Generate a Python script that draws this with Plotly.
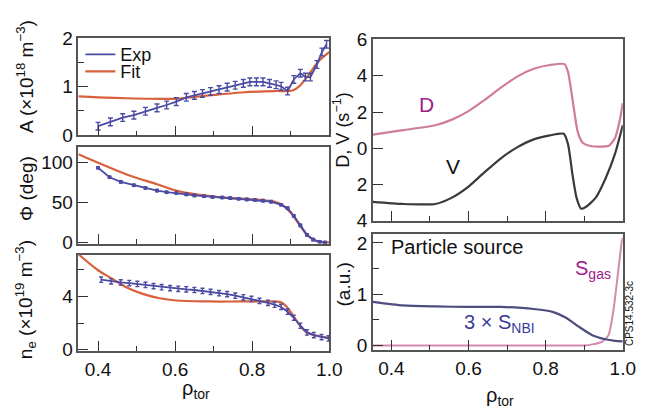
import plotly.graph_objects as go

W, H = 649, 418

# ---------------- data ----------------
# Panel A
a_exp_x = [0.400, 0.432, 0.464, 0.493, 0.523, 0.553, 0.578, 0.603, 0.629, 0.650, 0.671,
           0.692, 0.714, 0.735, 0.756, 0.777, 0.794, 0.811, 0.828, 0.845, 0.862, 0.875,
           0.892, 0.908, 0.925, 0.938, 0.951, 0.968, 0.981, 0.993]
a_exp_y = [0.18, 0.27, 0.36, 0.41, 0.49, 0.56, 0.62, 0.69, 0.78, 0.82, 0.86,
           0.90, 0.94, 0.99, 1.03, 1.07, 1.10, 1.10, 1.10, 1.07, 1.04, 1.01,
           0.91, 1.15, 1.28, 1.20, 1.20, 1.46, 1.72, 1.88]
a_exp_err = 0.08
a_fit_x = [0.349, 0.40, 0.476, 0.54, 0.603, 0.688, 0.773, 0.858, 0.895, 0.908, 0.925, 0.942, 0.960, 0.976, 1.0]
a_fit_y = [0.80, 0.78, 0.76, 0.75, 0.75, 0.82, 0.88, 0.91, 0.91, 0.93, 1.03, 1.20, 1.40, 1.56, 1.72]

# Panel Phi
phi_exp_x = [0.400, 0.430, 0.459, 0.493, 0.523, 0.553, 0.578, 0.603, 0.629, 0.650, 0.675,
             0.697, 0.722, 0.743, 0.765, 0.786, 0.807, 0.828, 0.849, 0.875, 0.892, 0.908,
             0.925, 0.942, 0.958, 0.975, 0.989]
phi_exp_y = [93.7, 81.7, 76.0, 71.8, 68.3, 65.0, 63.0, 62.0, 60.3, 59.0, 58.0,
             57.0, 56.3, 55.6, 54.8, 54.0, 53.2, 52.4, 51.2, 47.2, 43.0, 33.3,
             21.4, 9.5, 3.6, 0.8, 0.0]
phi_exp_err = 1.5
phi_fit_x = [0.349, 0.40, 0.476, 0.553, 0.603, 0.654, 0.730, 0.807, 0.857, 0.878, 0.900,
             0.925, 0.942, 0.968, 1.0]
phi_fit_y = [110.7, 100.0, 85.0, 73.0, 65.0, 60.3, 56.3, 54.0, 51.2, 47.0, 37.3,
             20.6, 9.5, 1.6, 0.0]

# Panel n_e
ne_exp_x = [0.408, 0.434, 0.459, 0.481, 0.502, 0.523, 0.544, 0.565, 0.587, 0.608, 0.629,
            0.650, 0.671, 0.692, 0.714, 0.735, 0.756, 0.777, 0.798, 0.819, 0.841, 0.858,
            0.875, 0.892, 0.908, 0.925, 0.942, 0.960, 0.980, 0.998]
ne_exp_y = [5.25, 5.13, 5.05, 5.00, 4.93, 4.86, 4.77, 4.69, 4.62, 4.57, 4.53,
            4.48, 4.41, 4.34, 4.24, 4.17, 4.05, 3.93, 3.81, 3.66, 3.52, 3.38,
            3.21, 2.85, 2.40, 1.80, 1.30, 1.10, 0.95, 0.85]
ne_exp_err = 0.2
ne_fit_x = [0.349, 0.40, 0.434, 0.476, 0.518, 0.560, 0.603, 0.688, 0.773, 0.840, 0.874,
            0.890, 0.908, 0.925, 0.942, 0.968, 1.0]
ne_fit_y = [7.16, 5.96, 5.37, 4.65, 4.17, 3.86, 3.69, 3.62, 3.62, 3.62, 3.57,
            3.21, 2.49, 1.77, 1.29, 1.05, 0.89]

# Panel D, V
dv_x = [0.352, 0.43, 0.514, 0.557, 0.60, 0.641, 0.684, 0.726, 0.769, 0.811, 0.849,
        0.858, 0.870, 0.883, 0.896, 0.913, 0.938, 0.964, 0.980, 0.993, 1.0]
d_y = [0.75, 1.00, 1.27, 1.58, 2.05, 2.65, 3.34, 3.95, 4.38, 4.59, 4.64,
       4.21, 2.65, 0.92, 0.31, 0.14, 0.09, 0.14, 0.57, 1.61, 2.48]
v_x = [0.352, 0.43, 0.514, 0.557, 0.60, 0.641, 0.684, 0.726, 0.769, 0.811, 0.847,
       0.858, 0.870, 0.880, 0.892, 0.904, 0.930, 0.955, 0.980, 1.0]
v_y = [-2.95, -3.07, -3.07, -2.72, -2.11, -1.33, -0.55, 0.05, 0.49, 0.71, 0.80,
       0.23, -1.51, -2.72, -3.33, -3.24, -2.72, -1.68, -0.29, 1.27]

# Panel particle source
snbi_x = [0.352, 0.43, 0.514, 0.60, 0.684, 0.769, 0.82, 0.853, 0.887, 0.921, 0.955, 0.98, 1.0]
snbi_y = [0.85, 0.78, 0.76, 0.75, 0.75, 0.71, 0.65, 0.54, 0.36, 0.20, 0.12, 0.09, 0.08]
sgas_x = [0.352, 0.60, 0.80, 0.90, 0.921, 0.946, 0.963, 0.976, 0.989, 0.997, 1.0]
sgas_y = [0.0, 0.0, 0.0, 0.0, 0.02, 0.07, 0.20, 0.70, 1.50, 2.00, 2.10]

x_ticks = [0.4, 0.6, 0.8, 1.0]
x_ticklabels = ["0.4", "0.6", "0.8", "1.0"]
x_minor = [0.5, 0.7, 0.9]

# ---------------- styles ----------------
FONT = "Liberation Sans, Arial, sans-serif"
EXP_C = "#4b4ba3"
FIT_C = "#d8603c"
D_C = "#d07a9c"
V_C = "#3a3a3a"
NBI_C = "#4d4d80"
GAS_C = "#d48aac"
MAG = "#a0208a"

def px_x(p):
    return p / W

def px_y(p):
    return 1 - p / H

fig = go.Figure()

# Panel A
fig.add_trace(go.Scatter(x=a_fit_x, y=a_fit_y, mode="lines", name="Fit",
                         line=dict(color=FIT_C, width=2.2, shape="spline"),
                         xaxis="x", yaxis="y", legend="legend2"))
fig.add_trace(go.Scatter(x=a_exp_x, y=a_exp_y, mode="lines", name="Exp",
                         line=dict(color=EXP_C, width=1.8),
                         error_y=dict(type="constant", value=a_exp_err, color=EXP_C, thickness=1.4, width=2.5),
                         xaxis="x", yaxis="y", legend="legend"))
# Panel Phi
fig.add_trace(go.Scatter(x=phi_fit_x, y=phi_fit_y, mode="lines", showlegend=False,
                         line=dict(color=FIT_C, width=2.2, shape="spline"),
                         xaxis="x2", yaxis="y2"))
fig.add_trace(go.Scatter(x=phi_exp_x, y=phi_exp_y, mode="lines+markers", showlegend=False,
                         line=dict(color=EXP_C, width=1.8),
                         marker=dict(size=4, color=EXP_C),
                         error_y=dict(type="constant", value=phi_exp_err, color=EXP_C, thickness=1.2, width=2),
                         xaxis="x2", yaxis="y2"))
# Panel n_e
fig.add_trace(go.Scatter(x=ne_fit_x, y=ne_fit_y, mode="lines", showlegend=False,
                         line=dict(color=FIT_C, width=2.2, shape="spline"),
                         xaxis="x3", yaxis="y3"))
fig.add_trace(go.Scatter(x=ne_exp_x, y=ne_exp_y, mode="lines", showlegend=False,
                         line=dict(color=EXP_C, width=1.8),
                         error_y=dict(type="constant", value=ne_exp_err, color=EXP_C, thickness=1.4, width=2),
                         xaxis="x3", yaxis="y3"))
# Panel D, V
fig.add_trace(go.Scatter(x=dv_x, y=d_y, mode="lines", showlegend=False,
                         line=dict(color=D_C, width=2.2, shape="spline", smoothing=0.6),
                         xaxis="x4", yaxis="y4"))
fig.add_trace(go.Scatter(x=v_x, y=v_y, mode="lines", showlegend=False,
                         line=dict(color=V_C, width=2.2, shape="spline", smoothing=0.6),
                         xaxis="x4", yaxis="y4"))
# Panel source
fig.add_trace(go.Scatter(x=sgas_x, y=sgas_y, mode="lines", showlegend=False,
                         line=dict(color=GAS_C, width=2, shape="spline", smoothing=0.6),
                         xaxis="x5", yaxis="y5"))
fig.add_trace(go.Scatter(x=snbi_x, y=snbi_y, mode="lines", showlegend=False,
                         line=dict(color=NBI_C, width=2.2, shape="spline", smoothing=0.6),
                         xaxis="x5", yaxis="y5"))

LD = [px_x(80), px_x(336)]
RD = [px_x(380.5), px_x(635.5)]

def xaxis(domain, anchor, rng, labels):
    return dict(domain=domain, anchor=anchor, range=rng,
                tickvals=x_ticks, ticktext=x_ticklabels, showticklabels=labels,
                ticks="inside", ticklen=10, tickwidth=1.3, tickcolor="#333",
                minor=dict(tickvals=x_minor, ticks="inside", ticklen=5, tickwidth=1.3, tickcolor="#333"),
                showline=True, mirror=True, linecolor="#555", linewidth=1.5,
                showgrid=False, zeroline=False,
                tickfont=dict(size=19, color="#111", family=FONT))

def yaxis(domain, anchor, rng, tickvals, ticktext=None, minor=None):
    d = dict(domain=domain, anchor=anchor, range=rng,
             tickvals=tickvals, ticktext=ticktext if ticktext else [str(v) for v in tickvals],
             ticks="inside", ticklen=10, tickwidth=1.3, tickcolor="#333",
             showline=True, mirror=True, linecolor="#555", linewidth=1.5,
             showgrid=False, zeroline=False,
             tickfont=dict(size=19, color="#111", family=FONT))
    if minor:
        d["minor"] = dict(tickvals=minor, ticks="inside", ticklen=6, tickwidth=1.3, tickcolor="#333")
    return d

fig.update_layout(
    width=W, height=H, margin=dict(l=0, r=0, t=0, b=0),
    paper_bgcolor="white", plot_bgcolor="white",
    font=dict(family=FONT, size=19, color="#111"),
    xaxis=xaxis(LD, "y", [0.349, 1.0], False),
    xaxis2=xaxis(LD, "y2", [0.349, 1.0], False),
    xaxis3=xaxis(LD, "y3", [0.349, 1.0], True),
    xaxis4=xaxis(RD, "y4", [0.352, 1.0], False),
    xaxis5=xaxis(RD, "y5", [0.352, 1.0], True),
    yaxis=yaxis([px_y(132), px_y(29)], "x", [-0.01, 2.02], [0, 1, 2], minor=[0.5, 1.5]),
    yaxis2=yaxis([px_y(246), px_y(144)], "x2", [-1.5, 120], [0, 50, 100]),
    yaxis3=yaxis([px_y(359), px_y(258)], "x3", [-0.09, 7.1], [0, 4], minor=[2, 6]),
    yaxis4=yaxis([px_y(222), px_y(31)], "x4", [-4, 6], [-4, -2, 0, 2, 4, 6],
                 ticktext=["4", "2", "0", "2", "4", "6"]),
    yaxis5=yaxis([px_y(358), px_y(236)], "x5", [-0.09, 2.17], [0, 1, 2], minor=[0.5, 1.5]),
    legend=dict(x=px_x(82), y=px_y(47), xanchor="left", yanchor="middle",
                bgcolor="rgba(0,0,0,0)", font=dict(size=18, family=FONT, color="#111"),
                itemwidth=30, tracegroupgap=0),
    legend2=dict(x=px_x(82), y=px_y(65), xanchor="left", yanchor="middle",
                 bgcolor="rgba(0,0,0,0)", font=dict(size=18, family=FONT, color="#111"),
                 itemwidth=30, tracegroupgap=0),
)

ann = []
def A(text, x, y, size=19, color="#111", angle=0, xanchor="center", yanchor="middle"):
    ann.append(dict(text=text, x=px_x(x), y=px_y(y), xref="paper", yref="paper",
                    showarrow=False, textangle=angle, xanchor=xanchor, yanchor=yanchor,
                    font=dict(size=size, color=color, family=FONT)))

A("A (×10<sup>18</sup> m<sup>−3</sup>)", 26, 70, angle=-90)
A("Φ (deg)", 27, 188, angle=-90)
A("n<sub>e</sub> (×10<sup>19</sup> m<sup>−3</sup>)", 26, 305, angle=-90)
A("D, V (s<sup>−1</sup>)", 349, 127, size=18, angle=-90)
A("(a.u.)", 350, 289, angle=-90)
A("ρ<sub>tor</sub>", 200, 400, size=20)
A("ρ<sub>tor</sub>", 510, 407, size=20)
A("D", 435, 100, size=21, color=MAG)
A("V", 462, 165, size=21, color="#111")
A("Particle source", 397, 250, size=20, xanchor="left")
A("S<sub>gas</sub>", 605, 273, size=20, color=MAG)
A("3 × S<sub>NBI</sub>", 510, 330, size=20, color="#3a3a9a")
A("CPS14.532-3c", 643, 320, size=10, angle=-90)
fig.update_layout(annotations=ann)

fig.write_html("out.html")
